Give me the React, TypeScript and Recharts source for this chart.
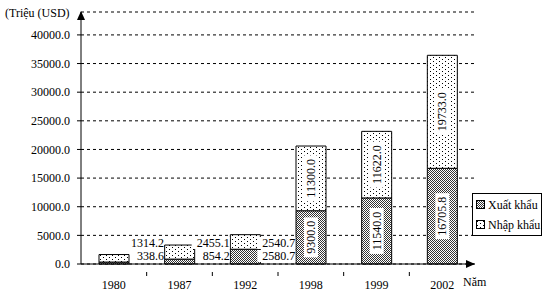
import { BarChart, Bar, XAxis, YAxis, CartesianGrid, LabelList, Label } from 'recharts';

const years = ['1980', '1987', '1992', '1998', '1999', '2002'];
const xuatKhau = [338.6, 854.2, 2580.7, 9300.0, 11540.0, 16705.8];
const nhapKhau = [1314.2, 2455.1, 2540.7, 11300.0, 11622.0, 19733.0];
const yTicks = [0, 5000, 10000, 15000, 20000, 25000, 30000, 35000, 40000];
const seriesNames = ['Xuất khẩu', 'Nhập khẩu'];

const data = years.map((year, i) => ({ year, xuat: xuatKhau[i], nhap: nhapKhau[i] }));

const FONT = '"Liberation Serif", "Times New Roman", serif';
const BAND = 394 / years.length;
const fmt = (v: number) => v.toFixed(1);

// tick label + a small mark on the boundary to the right of each category
const YearTick = ({ x, y, payload, index }: any) => (
  <g>
    <text x={x} y={y + 13} textAnchor="middle" dominantBaseline="central" fontFamily={FONT} fontSize={12} fill="#000">
      {payload.value}
    </text>
    {index < years.length - 1 && (
      <line x1={x + BAND / 2} y1={y} x2={x + BAND / 2} y2={y + 4} stroke="#000" />
    )}
  </g>
);

const boxedText = (cx: number, cy: number, s: string, key: string) => {
  const w = s.length * 6 + 2;
  return (
    <g key={key}>
      <rect x={cx - w} y={cy - 6} width={w} height={12} fill="#fff" />
      <text x={cx} y={cy} textAnchor="end" dominantBaseline="central" fontFamily={FONT} fontSize={12} fill="#000">
        {s}
      </text>
    </g>
  );
};

const rotatedText = (x: number, y: number, width: number, height: number, s: string) => {
  const cx = x + width / 2;
  const cy = y + height / 2;
  const len = s.length * 6 + 4;
  return (
    <g transform={`rotate(-90 ${cx} ${cy})`}>
      <rect x={cx - len / 2} y={cy - 7} width={len} height={14} fill="#fff" />
      <text x={cx} y={cy} textAnchor="middle" dominantBaseline="central" fontFamily={FONT} fontSize={12} fill="#000">
        {s}
      </text>
    </g>
  );
};

const XuatLabel = (props: any) => {
  const { x, y, width, height, index } = props;
  if (index < 3) {
    const zero = y + height;
    const right = x + width + 35;
    return (
      <g>
        {boxedText(right, zero - 21, fmt(nhapKhau[index]), 'n')}
        {boxedText(right, zero - 8, fmt(xuatKhau[index]), 'x')}
      </g>
    );
  }
  return rotatedText(x, y, width, height, fmt(xuatKhau[index]));
};

const NhapLabel = (props: any) => {
  const { x, y, width, height, index } = props;
  if (index < 3) return null;
  return rotatedText(x, y, width, height, fmt(nhapKhau[index]));
};

const LegendBox = () => (
  <div
    style={{
      position: 'absolute',
      left: 472,
      top: 193,
      border: '1px solid #000',
      background: '#fff',
      width: 70,
      height: 43,
      fontFamily: FONT,
      fontSize: 12,
      lineHeight: '20px',
      padding: '1px 0 0 3px',
      boxSizing: 'border-box',
    }}
  >
    {seriesNames.map((name, i) => (
      <div key={name} style={{ display: 'flex', alignItems: 'center', whiteSpace: 'nowrap' }}>
        <svg width={10} height={10} style={{ marginRight: 2 }}>
          <rect x={0.5} y={0.5} width={8} height={8} fill={i === 0 ? 'url(#checker)' : 'url(#dots)'} stroke="#000" />
        </svg>
        {name}
      </div>
    ))}
  </div>
);

export default function App() {
  return (
    <div style={{ position: 'absolute', left: 0, top: 0, width: 554, height: 299, background: '#fff' }}>
      <BarChart
        width={554}
        height={299}
        data={data}
        margin={{ top: 12, right: 79, left: 0, bottom: 0 }}
        barSize={30}
      >
        <defs>
          <pattern id="checker" width={2} height={2} patternUnits="userSpaceOnUse">
            <rect width={2} height={2} fill="#fff" />
            <rect x={0} y={0} width={1} height={1} fill="#333" />
            <rect x={1} y={1} width={1} height={1} fill="#333" />
          </pattern>
          <pattern id="dots" width={6} height={4} patternUnits="userSpaceOnUse">
            <rect width={6} height={4} fill="#fff" />
            <rect x={1} y={1} width={1} height={1} fill="#000" />
            <rect x={4} y={3} width={1} height={1} fill="#000" />
          </pattern>
        </defs>
        <CartesianGrid vertical={false} stroke="#000" strokeDasharray="3 3" />
        <XAxis
          dataKey="year"
          height={35}
          axisLine={{ stroke: '#000' }}
          tickLine={false}
          tick={<YearTick />}
          interval={0}
        >
          <Label
            content={() => (
              <text x={463} y={282} dominantBaseline="central" fontFamily={FONT} fontSize={12} fill="#000">
                Năm
              </text>
            )}
          />
        </XAxis>
        <YAxis
          width={81}
          domain={[0, 44000]}
          ticks={yTicks}
          tickFormatter={fmt}
          axisLine={{ stroke: '#000' }}
          tickLine={{ stroke: '#000' }}
          tickSize={4}
          tickMargin={7}
          tick={{ fontFamily: FONT, fontSize: 12, fill: '#000' }}
        >
          <Label
            content={() => (
              <text x={5} y={13} dominantBaseline="central" fontFamily={FONT} fontSize={12} fill="#000">
                (Triệu (USD)
              </text>
            )}
          />
        </YAxis>
        <Bar dataKey="xuat" name={seriesNames[0]} stackId="a" fill="url(#checker)" stroke="#000" isAnimationActive={false}>
          <LabelList dataKey="xuat" content={<XuatLabel />} />
        </Bar>
        <Bar dataKey="nhap" name={seriesNames[1]} stackId="a" fill="url(#dots)" stroke="#000" isAnimationActive={false}>
          <LabelList dataKey="nhap" content={<NhapLabel />} />
        </Bar>
      </BarChart>
      <svg width={554} height={299} style={{ position: 'absolute', left: 0, top: 0, pointerEvents: 'none' }}>
        <polygon points="81,11 77,20 85,20" fill="#000" />
        <polygon points="475,264 466,260 466,268" fill="#000" />
      </svg>
      <LegendBox />
    </div>
  );
}
